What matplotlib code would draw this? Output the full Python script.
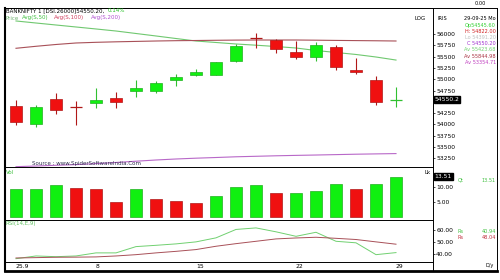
import matplotlib
matplotlib.use("Agg")
import matplotlib.pyplot as plt
import matplotlib.transforms as mtransforms
from matplotlib.lines import Line2D

W, H = 500, 280

# ---- data (20 daily sessions, last = 29-09-25) ----
x_labels = ["25.9", "8", "15", "22", "29"]
x_label_idx = [0, 4, 9, 14, 19]

opens = [54407, 54016, 54555, 54385, 54467, 54584, 54746, 54733, 54976, 55100,
         55100, 55403, 55915, 55867, 55608, 55485, 55719, 55210, 54982, 54545.6]
highs = [54540, 54436, 54702, 54511, 54799, 54717, 54976, 54967, 55115, 55219,
         55380, 55780, 56015, 55883, 55852, 55823, 55750, 55462, 55071, 54822.0]
lows = [53980, 53936, 54237, 53987, 54357, 54357, 54606, 54702, 54850, 55071,
        55090, 55380, 55684, 55587, 55454, 55409, 55204, 55108, 54429, 54391.2]
closes = [54047, 54379, 54312, 54375, 54533, 54496, 54812, 54909, 55042, 55153,
          55374, 55741, 55905, 55668, 55491, 55750, 55263, 55160, 54502, 54550.2]

ma50 = [56288, 56243, 56199, 56155, 56111, 56066, 56011, 55956, 55900, 55845,
        55812, 55779, 55752, 55723, 55690, 55635, 55591, 55547, 55491, 55423.68]
ma100 = [55684, 55728, 55768, 55801, 55816, 55827, 55836, 55845, 55852, 55856,
         55861, 55865, 55867, 55867, 55867, 55863, 55858, 55854, 55850, 55844.98]
ma200 = [53065, 53080, 53096, 53111, 53133, 53158, 53186, 53213, 53235, 53253,
         53268, 53284, 53295, 53306, 53315, 53323, 53332, 53341, 53348, 53354.71]

vol = [9.5, 9.5, 10.7, 9.9, 9.5, 5.2, 9.6, 6.1, 5.4, 4.7,
       7.2, 10.0, 10.9, 8.1, 8.1, 8.7, 11.1, 9.4, 11.1, 13.51]
vol_up = [1, 1, 1, 0, 0, 0, 1, 0, 0, 0, 1, 1, 1, 0, 1, 1, 1, 0, 1, 1]

rsi = [35.8, 38.1, 37.5, 38.1, 40.7, 40.7, 46.0, 47.1, 48.3, 50.0,
       53.4, 60.5, 61.8, 58.5, 54.7, 58.1, 50.5, 49.2, 39.2, 40.94]
rsi_sig = [36.4, 36.7, 37.0, 37.1, 37.3, 38.1, 39.2, 40.7, 42.0, 43.5,
           46.3, 48.5, 50.5, 52.5, 53.3, 53.9, 53.0, 52.0, 50.0, 48.04]

price_ticks = [56000, 55750, 55500, 55250, 55000, 54750,
               54250, 54000, 53750, 53500, 53250]
vol_ticks = [10, 5]
rsi_ticks = [60, 50, 40]

GREEN, GREEN_E = "#10f010", "#20b020"
RED, RED_E = "#f01010", "#b01818"
FS = 4.3


def rect(x0, y0, x1, y1):
    return [x0 / W, 1 - y1 / H, (x1 - x0) / W, (y1 - y0) / H]


def ftext(x, y, s, **kw):
    kw.setdefault("fontsize", FS)
    kw.setdefault("va", "center")
    return fig.text(x / W, 1 - y / H, s, **kw)


def fline(xs, ys, **kw):
    fig.add_artist(Line2D([x / W for x in xs], [1 - y / H for y in ys],
                          transform=fig.transFigure, color="black", **kw))


fig = plt.figure(figsize=(W / 100, H / 100), dpi=100)
ax = fig.add_axes(rect(4.7, 7.5, 432.7, 167))
axv = fig.add_axes(rect(4.7, 167, 432.7, 219.5), sharex=ax)
axr = fig.add_axes(rect(4.7, 219.5, 432.7, 262), sharex=ax)

n = len(opens)
xs = list(range(n))

# candles
for i in xs:
    o, c, hi, lo = opens[i], closes[i], highs[i], lows[i]
    up = c >= o
    wick = "#30c030" if up else RED_E
    ax.vlines(i, lo, hi, color=wick, lw=0.8, zorder=2)
    if abs(c - o) < 15:
        ax.hlines((o + c) / 2, i - 0.3, i + 0.3, color=wick, lw=0.9, zorder=3)
    else:
        ax.bar(i, abs(c - o), bottom=min(o, c), width=0.6,
               color=GREEN if up else RED, edgecolor=GREEN_E if up else RED_E,
               lw=0.5, zorder=3)

ax.plot(xs, ma50, color="#70c870", lw=0.8, zorder=1)
ax.plot(xs, ma100, color="#a85058", lw=0.8, zorder=1)
ax.plot(xs, ma200, color="#b868c8", lw=0.8, zorder=1)

ax.set_xlim(-0.565, 20.835)
ax.set_ylim(53058, 56586)
ax.yaxis.tick_right()
ax.set_yticks(price_ticks)
ax.set_yticklabels([str(t) for t in price_ticks])
ax.tick_params(axis="y", labelsize=FS, length=1.5, width=0.5, pad=1)
ax.tick_params(axis="x", bottom=False, labelbottom=False)
blend = mtransforms.blended_transform_factory(ax.transAxes, ax.transData)
ax.text(1.004, closes[-1], "54550.2", transform=blend, fontsize=FS, color="white",
        va="center", ha="left",
        bbox=dict(boxstyle="square,pad=0.15", fc="black", ec="black"))

# volume
axv.bar(xs, vol, width=0.6, color=[GREEN if u else RED for u in vol_up],
        edgecolor=[GREEN_E if u else RED_E for u in vol_up], lw=0.5)
axv.set_ylim(-0.7, 16.8)
axv.yaxis.tick_right()
axv.set_yticks(vol_ticks)
axv.set_yticklabels(["%.2f" % t for t in vol_ticks])
axv.tick_params(axis="y", labelsize=FS, length=1.5, width=0.5, pad=1)
axv.tick_params(axis="x", bottom=False, labelbottom=False)
bv = mtransforms.blended_transform_factory(axv.transAxes, axv.transData)
axv.text(1.004, vol[-1], "13.51", transform=bv, fontsize=FS, color="white",
         va="center", ha="left",
         bbox=dict(boxstyle="square,pad=0.15", fc="black", ec="black"))

# RSI
axr.plot(xs, rsi, color="#70d070", lw=0.7)
axr.plot(xs, rsi_sig, color="#a85058", lw=0.7)
axr.set_ylim(33, 68.9)
axr.yaxis.tick_right()
axr.set_yticks(rsi_ticks)
axr.set_yticklabels(["%.2f" % t for t in rsi_ticks])
axr.tick_params(axis="y", labelsize=FS, length=1.5, width=0.5, pad=1)
axr.set_xticks(x_label_idx)
axr.set_xticklabels(x_labels, ha="left")
axr.tick_params(axis="x", labelsize=FS, length=0, pad=1.5)

for a in (ax, axv, axr):
    for s in a.spines.values():
        s.set_linewidth(0.7)

# outer frame
fline([4.7, 4.7], [7.5, 271])
fline([4.7, 497], [7.5, 7.5], lw=0.7)
fline([497, 497], [7.5, 271], lw=0.7)
fline([4.7, 497], [271, 271], lw=2)
fline([432.7, 432.7], [262, 271], lw=0.7)

# headers
title = ftext(5.5, 11, "BANKNIFTY 1 [DSI.26000]54550.20,", color="black", fontsize=4.0)
fig.canvas.draw()
tx1 = title.get_window_extent().x1
ftext(tx1 + 4, 11, "0.14%", color="#20c020", fontsize=4.0)
ftext(5.5, 18, "Price", color="#70b070", fontsize=4.0)
ftext(22, 18, "Avg(S,50)", color="#40c040", fontsize=4.0)
ftext(54, 18, "Avg(S,100)", color="#d04060", fontsize=4.0)
ftext(91, 18, "Avg(S,200)", color="#b050d0", fontsize=4.0)
ftext(32, 163, "Source : www.SpiderSoftwareIndia.Com", color="#303050", fontsize=4.0)
ftext(420, 19, "LOG", ha="center", fontsize=4.0)
ftext(6, 172.5, "Vol", color="#40c040", fontsize=4.0)
ftext(428, 173, "Lk", ha="center", fontsize=4.0)
ftext(6, 224, "RSI(14,E,9)", color="#60c060", fontsize=4.0)

# right info column
FI = 3.6
ftext(480, 3.5, "0.00", ha="center", fontsize=FI)
ftext(437, 19, "IRIS", fontsize=FI)
ftext(496, 19, "29-09-25 Mo", ha="right", fontsize=FI)
info = [("Op54545.60", "#30d030"), ("H: 54822.00", "#d02020"),
        ("Lo 54391.20", "#c0c0c0"), ("C 54550.20", "#a030d0"),
        ("Av 55423.68", "#70d070"), ("Av 55844.98", "#a83040"),
        ("Av 53354.71", "#c040c0")]
for k, (s, col) in enumerate(info):
    ftext(496, 25.5 + k * 6.1, s, color=col, ha="right", fontsize=FI)
ftext(458, 180.5, "Qt", color="#40c040", fontsize=FI)
ftext(496, 180.5, "13.51", color="#40c040", ha="right", fontsize=FI)
ftext(458, 231.5, "Rs", color="#40c040", fontsize=FI)
ftext(496, 231.5, "40.94", color="#40c040", ha="right", fontsize=FI)
ftext(458, 237.5, "Rs", color="#c03040", fontsize=FI)
ftext(496, 237.5, "48.04", color="#c03040", ha="right", fontsize=FI)
ftext(494, 266, "D/y", ha="right", fontsize=FI)

fig.savefig("out.png", dpi=100)
